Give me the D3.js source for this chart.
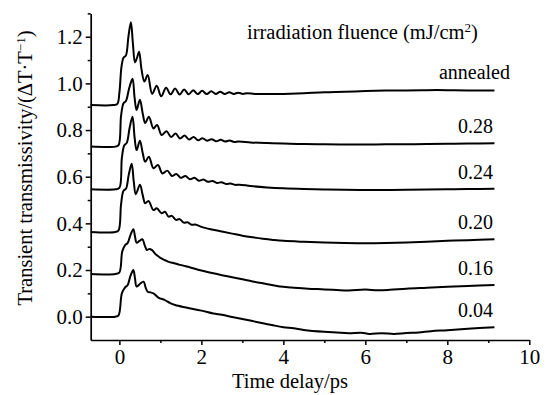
<!DOCTYPE html>
<html>
<head>
<meta charset="utf-8">
<script src="https://cdn.jsdelivr.net/npm/d3@7"></script>
<style>
  html, body { margin: 0; padding: 0; background: #fff; }
  svg { display: block; }
  text { font-family: "Liberation Serif", "Times New Roman", serif; fill: #000; }
</style>
</head>
<body>
<svg id="chart" width="555" height="395"></svg>
<script>
// series labels (top to bottom)
var seriesLabels = ['annealed', '0.28', '0.24', '0.20', '0.16', '0.04'];

// [time delay (ps), transient transmissivity]
var annealed = [[-0.7,0.907],[-0.15,0.907],[-0.05,0.912],[0.0,0.96],[0.05,1.07],[0.1,1.11],[0.16,1.12],[0.22,1.2],[0.28,1.262],[0.33,1.17],[0.38,1.09],[0.43,1.11],[0.48,1.136],[0.54,1.06],[0.61,1.008],[0.69,1.036],[0.8,0.955],[0.91,0.99],[1.02,0.945],[1.14,0.981],[1.25,0.953],[1.36,0.978],[1.47,0.952],[1.58,0.974],[1.69,0.953],[1.8,0.971],[1.91,0.954],[2.02,0.968],[2.13,0.954],[2.24,0.966],[2.35,0.955],[2.46,0.964],[2.57,0.955],[2.68,0.962],[2.79,0.955],[2.9,0.96],[3.01,0.955],[3.12,0.958],[3.3,0.955],[3.6,0.954],[4,0.955],[4.5,0.958],[5,0.962],[5.5,0.964],[6,0.967],[6.5,0.969],[7,0.97],[7.5,0.971],[8,0.971],[8.5,0.97],[9.15,0.969]];

var f028 = [[-0.7,0.729],[-0.1,0.729],[-0.02,0.735],[0.04,0.86],[0.1,0.915],[0.16,0.925],[0.24,0.98],[0.32,1.02],[0.37,0.94],[0.42,0.886],[0.5,0.93],[0.57,0.87],[0.63,0.83],[0.72,0.857],[0.83,0.807],[0.92,0.822],[1.03,0.779],[1.15,0.795],[1.26,0.77],[1.37,0.785],[1.48,0.764],[1.59,0.777],[1.7,0.759],[1.81,0.77],[1.92,0.756],[2.03,0.765],[2.14,0.754],[2.25,0.761],[2.36,0.752],[2.47,0.758],[2.58,0.751],[2.69,0.755],[2.8,0.749],[2.91,0.751],[3.2,0.747],[3.6,0.744],[4,0.742],[4.5,0.74],[5,0.739],[5.5,0.738],[6,0.738],[6.5,0.739],[7,0.739],[7.5,0.74],[8,0.741],[8.5,0.742],[9.15,0.743]];

var f024 = [[-0.7,0.546],[-0.1,0.546],[0.0,0.552],[0.06,0.68],[0.12,0.735],[0.18,0.745],[0.25,0.81],[0.32,0.857],[0.37,0.77],[0.42,0.714],[0.5,0.754],[0.57,0.7],[0.63,0.664],[0.72,0.686],[0.83,0.636],[0.94,0.65],[1.05,0.614],[1.17,0.626],[1.28,0.603],[1.39,0.612],[1.5,0.595],[1.61,0.603],[1.72,0.589],[1.83,0.595],[1.94,0.583],[2.05,0.588],[2.16,0.578],[2.27,0.582],[2.38,0.573],[2.49,0.576],[2.6,0.569],[2.71,0.571],[2.82,0.565],[2.93,0.566],[3.2,0.56],[3.6,0.554],[4,0.55],[4.5,0.547],[5,0.545],[5.5,0.544],[6,0.543],[6.5,0.543],[7,0.544],[7.5,0.545],[8,0.546],[8.5,0.547],[9.15,0.548]];

var f020 = [[-0.7,0.363],[-0.1,0.363],[-0.02,0.37],[0.04,0.48],[0.1,0.54],[0.16,0.548],[0.23,0.61],[0.3,0.655],[0.35,0.58],[0.4,0.525],[0.5,0.565],[0.57,0.52],[0.63,0.486],[0.71,0.496],[0.83,0.457],[0.91,0.465],[1.03,0.443],[1.11,0.45],[1.2,0.429],[1.28,0.432],[1.38,0.415],[1.47,0.418],[1.57,0.403],[1.66,0.405],[1.76,0.394],[1.85,0.395],[2.0,0.385],[2.25,0.374],[2.5,0.365],[2.75,0.356],[3,0.347],[3.25,0.34],[3.5,0.334],[3.75,0.329],[4,0.325],[4.5,0.321],[5,0.318],[5.5,0.316],[6,0.315],[6.5,0.316],[7,0.318],[7.5,0.321],[8,0.325],[8.5,0.328],[9.15,0.332]];

var f016 = [[-0.7,0.183],[-0.1,0.183],[0.0,0.19],[0.07,0.28],[0.14,0.307],[0.2,0.315],[0.27,0.35],[0.34,0.375],[0.38,0.345],[0.42,0.317],[0.49,0.325],[0.56,0.332],[0.62,0.305],[0.67,0.286],[0.73,0.29],[0.79,0.286],[0.9,0.265],[1.0,0.252],[1.1,0.243],[1.2,0.235],[1.3,0.231],[1.48,0.222],[1.75,0.21],[2,0.198],[2.29,0.186],[2.5,0.178],[2.75,0.169],[3,0.16],[3.25,0.151],[3.5,0.143],[3.75,0.135],[3.92,0.129],[4.2,0.125],[4.6,0.12],[5,0.117],[5.3,0.114],[5.6,0.112],[6,0.116],[6.3,0.113],[6.6,0.115],[7,0.12],[7.5,0.124],[8,0.128],[8.5,0.132],[9.15,0.136]];

var f004 = [[-0.7,0.0],[-0.1,0.0],[-0.02,0.006],[0.06,0.1],[0.14,0.126],[0.2,0.135],[0.27,0.175],[0.34,0.2],[0.38,0.165],[0.42,0.129],[0.5,0.14],[0.59,0.15],[0.64,0.125],[0.69,0.107],[0.76,0.104],[0.83,0.1],[0.95,0.082],[1.11,0.071],[1.24,0.058],[1.36,0.05],[1.6,0.04],[2.0,0.026],[2.29,0.014],[2.5,0.008],[2.75,-0.001],[3,-0.01],[3.25,-0.019],[3.5,-0.028],[3.75,-0.037],[4,-0.045],[4.25,-0.05],[4.5,-0.057],[5,-0.065],[5.3,-0.068],[5.6,-0.071],[5.9,-0.069],[6.1,-0.074],[6.4,-0.071],[6.7,-0.074],[7.0,-0.07],[7.3,-0.068],[7.6,-0.062],[8,-0.058],[8.5,-0.052],[9.15,-0.045]];

var seriesData = [annealed, f028, f024, f020, f016, f004];

// ticks
var xMajorTicks = [0, 2, 4, 6, 8, 10];
var xMinorTicks = [1, 3, 5, 7, 9];
var yMajorTicks = [0.0, 0.2, 0.4, 0.6, 0.8, 1.0, 1.2];
var yMinorTicks = [0.1, 0.3, 0.5, 0.7, 0.9, 1.1, 1.3];

var svg = d3.select('#chart');

var xScale = d3.scaleLinear().domain([-0.7, 10]).range([90.7, 529.3]);
var yScale = d3.scaleLinear().domain([-0.1, 1.3]).range([340, 13.4]);

// axes
var xAxisG = svg.append('g').attr('transform', 'translate(0,340)');
xAxisG.call(d3.axisBottom(xScale).tickValues(xMajorTicks).tickSize(5).tickSizeOuter(0).tickFormat(d3.format('d')));
xAxisG.append('g').call(d3.axisBottom(xScale).tickValues(xMinorTicks).tickSize(3).tickSizeOuter(0).tickFormat(''))
  .select('.domain').remove();

var yAxisG = svg.append('g').attr('transform', 'translate(90.7,0)');
yAxisG.call(d3.axisLeft(yScale).tickValues(yMajorTicks).tickSize(5).tickSizeOuter(0).tickFormat(d3.format('.1f')));
yAxisG.append('g').call(d3.axisLeft(yScale).tickValues(yMinorTicks).tickSize(3).tickSizeOuter(0).tickFormat(''))
  .select('.domain').remove();

svg.selectAll('.domain').attr('stroke', '#000').attr('stroke-width', 1.7);
svg.selectAll('.tick line').attr('stroke', '#000').attr('stroke-width', 1.5);
svg.selectAll('.tick text')
  .style('font-family', '"Liberation Serif", "Times New Roman", serif')
  .style('font-size', '21px')
  .attr('fill', '#000');
xAxisG.selectAll('.tick text').attr('y', 9);
yAxisG.selectAll('.tick text').attr('x', -8);

// lines
var lineGenerator = d3.line()
  .x(function (d) { return xScale(d[0]); })
  .y(function (d) { return yScale(d[1]); })
  .curve(d3.curveCatmullRom.alpha(0.5));

svg.append('g').attr('class', 'curves')
  .selectAll('path')
  .data(seriesData)
  .enter()
  .append('path')
  .attr('d', lineGenerator)
  .attr('fill', 'none')
  .attr('stroke', '#000')
  .attr('stroke-width', 2)
  .attr('stroke-linejoin', 'round');

// series labels, just above each curve's right end
svg.append('g').attr('class', 'labels')
  .selectAll('text')
  .data(seriesData)
  .enter()
  .append('text')
  .attr('x', function (d, i) { return i === 0 ? 510 : 493; })
  .attr('y', function (d, i) { return yScale(d[d.length - 1][1]) - (i === 0 ? 12 : 10); })
  .attr('text-anchor', 'end')
  .style('font-size', '20px')
  .text(function (d, i) { return seriesLabels[i]; });

// legend title
var legendTitle = svg.append('text')
  .attr('x', 247)
  .attr('y', 39)
  .style('font-size', '20.5px');
legendTitle.append('tspan').text('irradiation fluence (mJ/cm');
legendTitle.append('tspan').attr('dy', -7).style('font-size', '13px').text('2');
legendTitle.append('tspan').attr('dy', 7).text(')');

// axis titles
svg.append('text')
  .attr('x', 290)
  .attr('y', 388)
  .attr('text-anchor', 'middle')
  .style('font-size', '20.5px')
  .text('Time delay/ps');

var yTitle = svg.append('text')
  .attr('transform', 'translate(32,168) rotate(-90)')
  .attr('text-anchor', 'middle')
  .style('font-size', '20.5px');
yTitle.append('tspan').text('Transient transmissivity/(\u0394T\u00b7T');
yTitle.append('tspan').attr('dy', -7).style('font-size', '13px').text('\u22121');
yTitle.append('tspan').attr('dy', 7).text(')');
</script>
</body>
</html>
